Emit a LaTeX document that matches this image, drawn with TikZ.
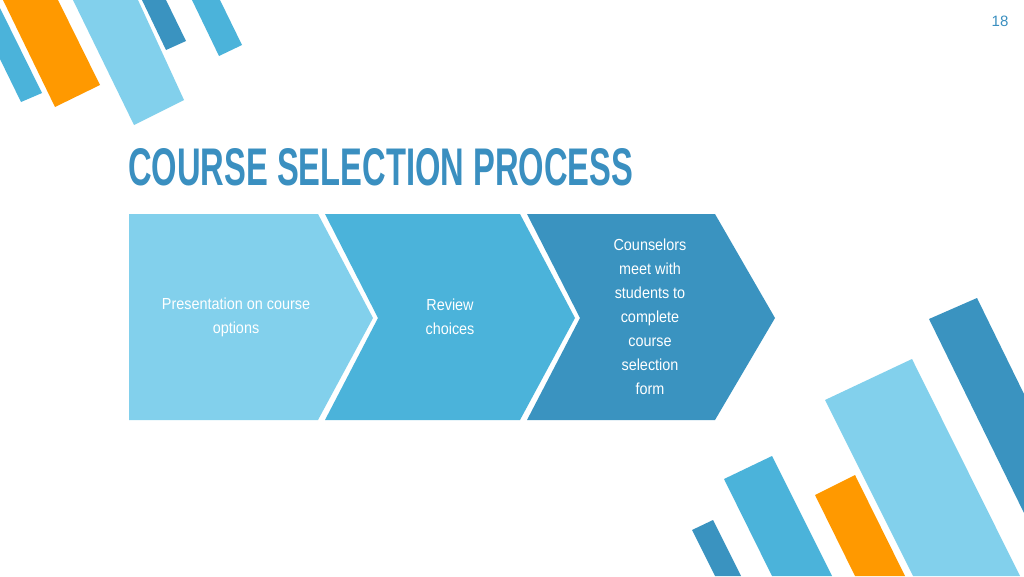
\documentclass[tikz,border=0pt]{standalone}
\usepackage{fontspec}
\setmainfont{Liberation Sans}
\usetikzlibrary{positioning}
\definecolor{skyblue}{HTML}{82D0EC}
\definecolor{midblue}{HTML}{4BB3DA}
\definecolor{deepblue}{HTML}{3A93C0}
\definecolor{barorange}{HTML}{FF9900}
\definecolor{titleblue}{HTML}{3A8FC0}
\begin{document}
\begin{tikzpicture}[x=1pt, y=-1pt,
    % Step label style
    steptext/.style={
        text=white,
        align=center,
        font=\fontsize{16}{24}\selectfont
    }
]
\useasboundingbox[fill=white] (0,0) rectangle (1024,576);

% Decorative bars, top left
\fill[midblue] (0,8) -- (42,93) -- (21,102) -- (0,59) -- cycle;
\fill[barorange] (3,0) -- (58,0) -- (100,85) -- (55,107) -- cycle;
\fill[skyblue] (73,0) -- (138,0) -- (184,100) -- (134,125) -- cycle;
\fill[deepblue] (142,0) -- (166,0) -- (186,41) -- (166,50) -- cycle;
\fill[midblue] (192,0) -- (220,0) -- (242,45) -- (219,56) -- cycle;

% Decorative bars, bottom right
\fill[deepblue] (929,319) -- (977,298) -- (1024,394) -- (1024,513) -- cycle;
\fill[skyblue] (825,400) -- (912,359) -- (1020,576) -- (913,576) -- cycle;
\fill[barorange] (815,495) -- (855,475) -- (905,576) -- (855,576) -- cycle;
\fill[midblue] (724,479) -- (772,456) -- (832,576) -- (772,576) -- cycle;
\fill[deepblue] (692,530) -- (713,520) -- (741,576) -- (715,576) -- cycle;

% Page number and title
\node[text=titleblue, font=\fontsize{15}{18}\selectfont] (pagenum) at (1000,21) {18};
\node[anchor=west, inner sep=0pt, text=titleblue] (title) at (128,167)
    {\resizebox{505pt}{37pt}{\bfseries COURSE SELECTION PROCESS}};

% Chevrons
\fill[skyblue] (129,214) -- (318,214) -- (373,318) -- (318,420) -- (129,420) -- cycle;
\fill[midblue] (325,214) -- (520,214) -- (575,318) -- (520,420) -- (325,420) -- (378,318) -- cycle;
\fill[deepblue] (527,214) -- (715,214) -- (775,318) -- (715,420) -- (527,420) -- (580,318) -- cycle;

% Step labels
\node[steptext] (present) at (236,317) {\scalebox{0.9}[1]{Presentation on course}\\\scalebox{0.9}[1]{options}};
\node[steptext] (review) at (450,317) {\scalebox{0.9}[1]{Review}\\\scalebox{0.9}[1]{choices}};
\node[steptext] (counsel) at (650,317) {\scalebox{0.9}[1]{Counselors}\\\scalebox{0.9}[1]{meet with}\\\scalebox{0.9}[1]{students to}\\\scalebox{0.9}[1]{complete}\\\scalebox{0.9}[1]{course}\\\scalebox{0.9}[1]{selection}\\\scalebox{0.9}[1]{form}};

\end{tikzpicture}
\end{document}
